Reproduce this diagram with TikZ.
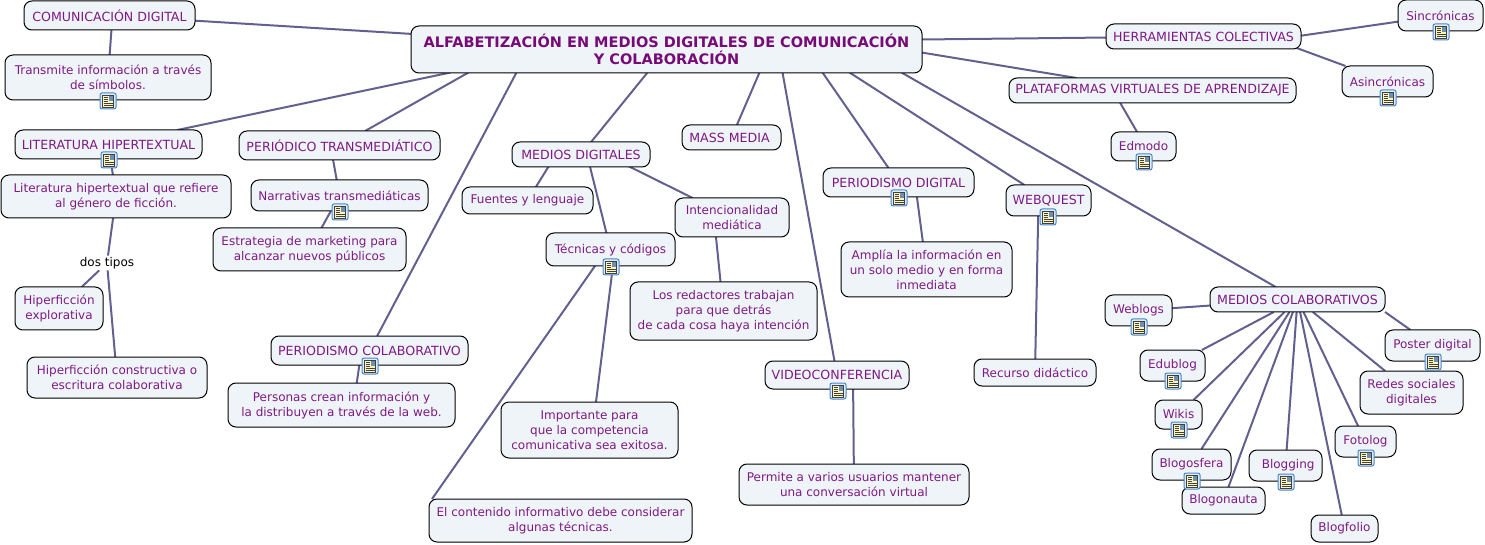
\documentclass[tikz,border=0pt]{standalone}
\usepackage{fontspec}
\setmainfont{DejaVu Sans}
\usepackage{xcolor}
\usetikzlibrary{backgrounds}

\definecolor{boxfill}{HTML}{EEF4F7}
\definecolor{boxtext}{HTML}{7F1A85}
\definecolor{linkcol}{HTML}{63608F}
\definecolor{roottext}{HTML}{780A78}
\definecolor{iconring}{HTML}{4A86C8}
\definecolor{iconback}{HTML}{DCEBFA}
\definecolor{iconpage}{HTML}{FFF6BC}
\definecolor{iconpict}{HTML}{6F8FB0}

\tikzset{
  concept/.style={draw=black,line width=0.75pt,rounded corners=6pt,fill=boxfill,text=boxtext,
    align=center,inner sep=0pt,outer sep=0pt,font=\fontsize{9}{11.25}\selectfont},
  link/.style={draw=linkcol,line width=1.5pt},
  noteicon/.pic={
    \draw[draw=iconring,fill=iconback,rounded corners=1.5pt,line width=0.75pt] (-8,-8) rectangle (8,8);
    \draw[draw=black!75,fill=iconpage,line width=0.4pt] (-5.5,-6) rectangle (5.5,6);
    \fill[iconpict] (0.5,-5) rectangle (4.8,0);
    \foreach \yy in {-4,-2,0} \draw[black!75,line width=0.35pt] (-4.5,\yy) -- (-0.5,\yy);
    \foreach \yy in {2,4} \draw[black!75,line width=0.35pt] (-4.5,\yy) -- (4.5,\yy);
  }
}

\newcommand{\capsize}{\fontsize{9.45}{11.25}\selectfont}

% box given by its corners in pixels
\newcommand{\concept}[6]{%
  \node[concept,minimum width={(#4-#2)*0.75pt},minimum height={(#5-#3)*0.75pt}]
    (#1) at ({(#2+#4)/2},{(#3+#5)/2}) {#6};}

\begin{document}
\begin{tikzpicture}[x=0.75pt,y=-0.75pt]
  \useasboundingbox (0,0) rectangle (1485,545);

  % main concept
  \node[concept,minimum width=511*0.75pt,minimum height=47*0.75pt,text=roottext,
    font=\fontsize{10.88}{12.75}\selectfont\bfseries] (root) at (666.5,49.5)
    {ALFABETIZACIÓN EN MEDIOS DIGITALES DE COMUNICACIÓN\\Y COLABORACIÓN};

  % left side
  \concept{comdig}{24}{1}{195}{30}{\capsize COMUNICACIÓN DIGITAL}
  \concept{transmite}{5}{55}{211}{100}{Transmite información a través\\de símbolos.}
  \concept{lithip}{15}{130}{202}{159}{\capsize LITERATURA HIPERTEXTUAL}
  \concept{litdef}{1}{175}{231}{218}{Literatura hipertextual que refiere\\al género de ficción.}
  \node[fill=white,inner sep=1pt,font=\fontsize{9}{11.25}\selectfont] (dostipos) at (107,263) {dos tipos};
  \concept{hipexp}{15}{287}{103}{330}{Hiperficción\\explorativa}
  \concept{hipcon}{27}{357}{207}{398}{Hiperficción constructiva o\\escritura colaborativa}
  \concept{pertrans}{239}{131}{440}{160}{\capsize PERIÓDICO TRANSMEDIÁTICO}
  \concept{narrat}{251}{180}{428}{211}{Narrativas transmediáticas}
  \concept{estrat}{213}{228}{406}{271}{Estrategia de marketing para\\alcanzar nuevos públicos}
  \concept{percol}{271}{336}{468}{365}{\capsize PERIODISMO COLABORATIVO}
  \concept{personas}{228}{383}{455}{427}{Personas crean información y\\la distribuyen a través de la web.}

  % middle
  \concept{meddig}{512}{142}{650}{167}{\capsize MEDIOS DIGITALES}
  \concept{fuentes}{462}{187}{593}{214}{Fuentes y lenguaje}
  \concept{tecnicas}{546}{233}{675}{266}{Técnicas y códigos}
  \concept{intenc}{675}{198}{789}{237}{Intencionalidad\\mediática}
  \concept{redact}{630}{282}{817}{340}{Los redactores trabajan\\para que detrás\\de cada cosa haya intención}
  \concept{import}{501}{402}{678}{458}{Importante para\\que la competencia\\comunicativa sea exitosa.}
  \concept{contenido}{429}{499}{692}{542}{El contenido informativo debe considerar\\algunas técnicas.}
  \concept{massmedia}{682}{125}{781}{150}{\capsize MASS MEDIA\hspace{3pt}}
  \concept{videoc}{765}{361}{909}{389}{\capsize VIDEOCONFERENCIA}
  \concept{permite}{739}{464}{969}{505}{Permite a varios usuarios mantener\\una conversación virtual}
  \concept{perdig}{823}{168}{974}{197}{\capsize PERIODISMO DIGITAL}
  \concept{amplia}{841}{242}{1012}{297}{Amplía la información en\\un solo medio y en forma\\inmediata}
  \concept{webquest}{1006}{185}{1091}{216}{\capsize WEBQUEST}
  \concept{recurso}{974}{359}{1096}{386}{Recurso didáctico}

  % right side
  \concept{plataf}{1009}{78}{1296}{103}{\capsize PLATAFORMAS VIRTUALES DE APRENDIZAJE}
  \concept{edmodo}{1111}{132}{1176}{161}{Edmodo}
  \concept{herram}{1106}{24}{1301}{49}{\capsize HERRAMIENTAS COLECTIVAS}
  \concept{sincr}{1398}{0}{1483}{31}{Sincrónicas}
  \concept{asincr}{1342}{66}{1433}{97}{Asincrónicas}
  \concept{medcol}{1210}{287}{1385}{312}{\capsize MEDIOS COLABORATIVOS}
  \concept{weblogs}{1105}{295}{1172}{326}{Weblogs}
  \concept{edublog}{1140}{350}{1205}{381}{Edublog}
  \concept{wikis}{1155}{400}{1202}{429}{Wikis}
  \concept{blogosfera}{1152}{449}{1231}{480}{Blogosfera}
  \concept{blogonauta}{1182}{487}{1265}{514}{Blogonauta}
  \concept{blogging}{1249}{450}{1322}{481}{\hspace{4pt}Blogging}
  \concept{blogfolio}{1311}{515}{1378}{542}{Blogfolio}
  \concept{fotolog}{1335}{426}{1396}{457}{Fotolog}
  \concept{poster}{1385}{330}{1480}{361}{Poster digital}
  \concept{redes}{1360}{371}{1463}{414}{Redes sociales\\digitales}

  \foreach \ix/\iy in {108/101,109/160,340/212,370/366,611/267,838/391,899/198,1048/217,
      1144/162,1441/32,1388/98,1139/327,1173/381,1179/430,1192/481,1286/482,1366/458,1433/362}
    \pic at (\ix,\iy) {noteicon};

  \begin{pgfonlayer}{background}
    % links from the main concept
    \foreach \to/\dx/\dy in {comdig/0/0,lithip/-216/23,pertrans/-198/23,percol/-150/23,meddig/-19/23,
        massmedia/93/23,videoc/116/23,perdig/156/23,webquest/183/23,medcol/235/23,plataf/255/3,herram/255/-10}
      \draw[link] (\to) -- ([shift={(\dx,\dy)}]root.center);
    % the others
    \foreach \from/\to in {lithip/litdef,litdef/dostipos,dostipos/hipexp,dostipos/hipcon,
        narrat/estrat,medcol/weblogs}
      \draw[link] (\from) -- (\to);
    \draw[link] ([shift={(3,0)}]comdig.center) -- (transmite);
    \draw[link] ([shift={(-9,0)}]pertrans.center) -- (narrat);
    \draw[link] ([shift={(-8,0)}]percol.center) -- ([shift={(12,0)}]personas.center);
    \draw[link] ([shift={(-25,0)}]meddig.center) -- (fuentes);
    \draw[link] ([shift={(6,0)}]meddig.center) -- (tecnicas);
    \draw[link] ([shift={(24,0)}]meddig.center) -- (intenc);
    \draw[link] ([shift={(-18,0)}]intenc.center) -- (redact);
    \draw[link] ([shift={(4.5,0)}]tecnicas.center) -- ([shift={(3,0)}]import.center);
    \draw[link] ([shift={(-4,0)}]tecnicas.center) -- ([shift={(-128.5,-21.5)}]contenido.center);
    \draw[link] ([shift={(16,0)}]videoc.center) -- (permite);
    \draw[link] ([shift={(16.5,0)}]perdig.center) -- (amplia);
    \draw[link] ([shift={(-10,0)}]webquest.center) -- (recurso);
    \draw[link] ([shift={(-39.5,0)}]plataf.center) -- ([shift={(2,0)}]edmodo.center);
    \draw[link] ([shift={(92,0)}]herram.center) -- (sincr);
    \draw[link] ([shift={(62,0)}]herram.center) -- (asincr);
    \foreach \to in {edublog,wikis,blogosfera,blogonauta,blogging,blogfolio,fotolog,redes}
      \draw[link] (medcol) -- (\to);
    \draw[link] (medcol.south east) -- (poster);
  \end{pgfonlayer}
\end{tikzpicture}
\end{document}
